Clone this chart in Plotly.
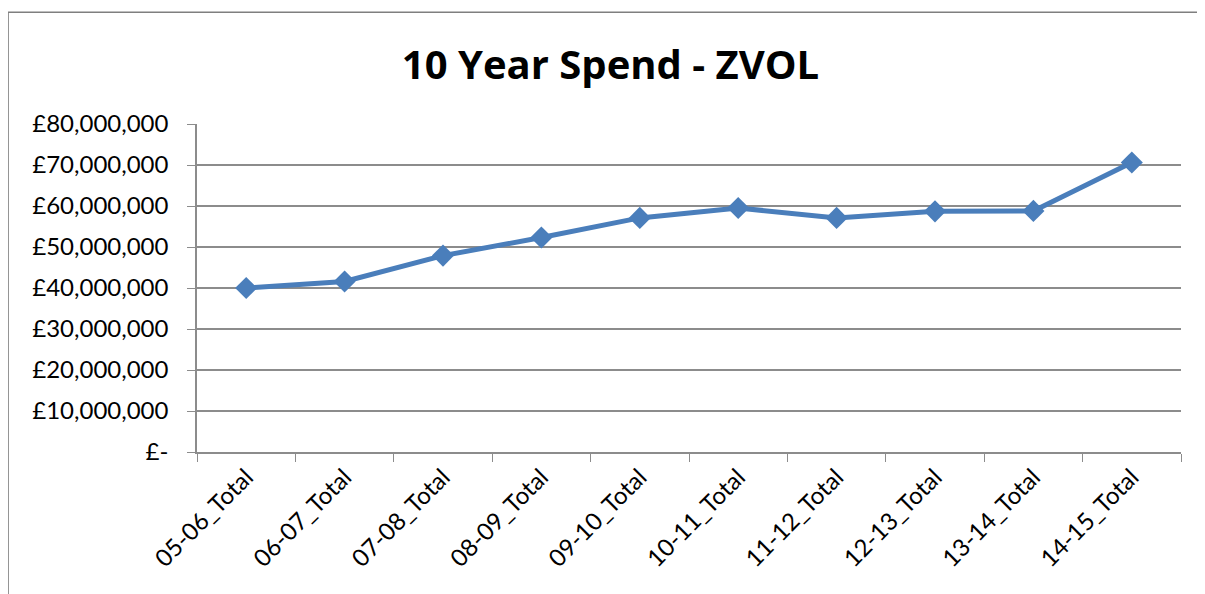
import plotly.graph_objects as go

# data
years = ["05-06_Total", "06-07_Total", "07-08_Total", "08-09_Total", "09-10_Total",
         "10-11_Total", "11-12_Total", "12-13_Total", "13-14_Total", "14-15_Total"]
spend = [40.0e6, 41.6e6, 47.9e6, 52.3e6, 57.1e6, 59.5e6, 57.1e6, 58.7e6, 58.8e6, 70.6e6]

y_ticks = [0, 10e6, 20e6, 30e6, 40e6, 50e6, 60e6, 70e6, 80e6]
y_labels = ["£-"] + ["£{:,.0f}".format(v) for v in y_ticks[1:]]

fig = go.Figure()

fig.add_trace(go.Scatter(
    x=years,
    y=spend,
    mode="lines+markers",
    line=dict(color="#4A7EBB", width=5),
    marker=dict(symbol="diamond", size=17, color="#4A7EBB"),
    showlegend=False,
))

grid = "#8C8C8C"

# page body has an 8px margin, so margins are shifted to compensate
fig.update_layout(
    width=1205,
    height=594,
    paper_bgcolor="white",
    plot_bgcolor="white",
    margin=dict(l=189, r=32, t=116, b=150),
    font=dict(family="Lato, Open Sans, sans-serif", size=24, color="black"),
    title=dict(
        text="<b>10 Year Spend - ZVOL</b>",
        x=0.5, xanchor="center",
        y=0.904, yanchor="middle",
        font=dict(size=40, family="Open Sans, Lato, sans-serif"),
    ),
    xaxis=dict(
        type="category",
        range=[-0.5, len(years) - 0.5],
        tickangle=-45,
        tickson="boundaries",
        ticks="outside",
        ticklen=8,
        tickcolor=grid,
        showline=True,
        linecolor=grid,
        linewidth=1.5,
        showgrid=False,
        tickfont=dict(size=24),
    ),
    yaxis=dict(
        range=[0, 80e6],
        tickvals=y_ticks,
        ticktext=y_labels,
        ticks="outside",
        ticklen=8,
        tickcolor=grid,
        showline=True,
        linecolor=grid,
        linewidth=1.5,
        showgrid=True,
        gridcolor=grid,
        gridwidth=1.5,
        zeroline=False,
        tickfont=dict(size=24),
        ticklabelstandoff=14,
    ),
    shapes=[
        # outer chart border
        dict(type="rect", xref="paper", yref="paper",
             x0=-0.192, x1=1.0193, y0=-0.6, y1=1.341,
             line=dict(color="#7F7F7F", width=1.5), fillcolor="rgba(0,0,0,0)",
             layer="below"),
    ],
)

fig.write_html("out.html")
